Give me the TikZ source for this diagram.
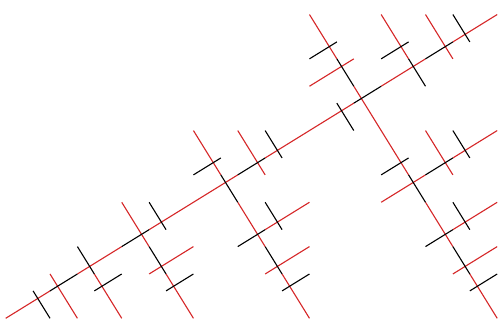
\documentclass[tikz,border=0pt]{standalone}
\definecolor{tred}{RGB}{214,39,40}
\tikzset{
  rl/.style={draw=tred, line width=1.1pt},
  bl/.style={draw=black, line width=1.1pt}
}
\newcommand\drawU[4]{\draw[#1] (#2,#4) -- (#3,#4);}
\newcommand\drawV[4]{\draw[#1] (#4,#2) -- (#4,#3);}
\begin{document}
\begin{tikzpicture}[x=1pt,y=-1pt]
\fill[white] (0,0) rectangle (501,326);
\useasboundingbox (0,0) rectangle (501,326);
\begin{scope}[shift={(5.7,318.3)}, x={(0.85065pt,0.52573pt)}, y={(0.52573pt,-0.85065pt)}]
% ---------- red ----------
% trunk
\drawU{rl}{0}{52.1}{0}
\drawU{rl}{84.3}{136.4}{0}
\drawU{rl}{168.6}{272.8}{0}
\drawU{rl}{305.0}{409.2}{0}
\drawU{rl}{441.4}{493.5}{0}
\drawU{rl}{525.7}{577.8}{0}
% perpendiculars
\drawV{rl}{-14.4}{37.7}{61.0}
\drawV{rl}{8.9}{61.0}{98.7}
\drawV{rl}{-37.7}{14.4}{159.7}
\drawV{rl}{46.6}{98.7}{159.7}
\drawV{rl}{-61.0}{-8.9}{258.4}
\drawV{rl}{23.3}{75.4}{258.4}
\drawV{rl}{107.6}{159.7}{258.4}
\drawV{rl}{-37.7}{14.4}{296.1}
\drawV{rl}{-98.7}{-46.6}{418.1}
\drawV{rl}{-14.4}{89.8}{418.1}
\drawV{rl}{122.0}{174.1}{418.1}
\drawV{rl}{206.3}{258.4}{418.1}
\drawV{rl}{-61.0}{-8.9}{479.1}
\drawV{rl}{-37.7}{14.4}{516.8}
\drawV{rl}{61.0}{113.1}{455.8}
% parallels
\drawU{rl}{145.3}{197.4}{37.7}
\drawU{rl}{267.3}{319.4}{61.0}
\drawU{rl}{244.0}{296.1}{98.7}
\drawU{rl}{380.4}{432.5}{-37.7}
\drawU{rl}{380.4}{432.5}{98.7}
\drawU{rl}{464.7}{516.8}{98.7}
\drawU{rl}{427.0}{479.1}{159.7}
\drawU{rl}{403.7}{455.8}{197.4}
% ---------- black ----------
% trunk
\drawU{bl}{52.1}{84.3}{0}
\drawU{bl}{136.4}{168.6}{0}
\drawU{bl}{272.8}{305.0}{0}
\drawU{bl}{409.2}{441.4}{0}
\drawU{bl}{493.5}{525.7}{0}
% perpendiculars
\drawV{bl}{-8.9}{23.3}{37.7}
\drawV{bl}{-23.3}{8.9}{98.7}
\drawV{bl}{14.4}{46.6}{159.7}
\drawV{bl}{-23.3}{8.9}{183.0}
\drawV{bl}{-8.9}{23.3}{258.4}
\drawV{bl}{75.4}{107.6}{258.4}
\drawV{bl}{-23.3}{8.9}{319.4}
\drawV{bl}{-8.9}{23.3}{394.8}
\drawV{bl}{-46.6}{-14.4}{418.1}
\drawV{bl}{89.8}{122.0}{418.1}
\drawV{bl}{174.1}{206.3}{418.1}
\drawV{bl}{-8.9}{23.3}{479.1}
\drawV{bl}{-23.3}{8.9}{540.1}
\drawV{bl}{37.7}{69.9}{281.7}
\drawV{bl}{75.4}{107.6}{479.1}
\drawV{bl}{136.4}{168.6}{441.4}
% parallels
\drawU{bl}{89.8}{122.0}{23.3}
\drawU{bl}{150.8}{183.0}{61.0}
\drawU{bl}{235.1}{267.3}{-23.3}
\drawU{bl}{235.1}{267.3}{61.0}
\drawU{bl}{249.5}{281.7}{122.0}
\drawU{bl}{394.8}{427.0}{-61.0}
\drawU{bl}{455.8}{488.0}{-23.3}
\drawU{bl}{394.8}{427.0}{75.4}
\drawU{bl}{432.5}{464.7}{98.7}
\drawU{bl}{394.8}{427.0}{159.7}
\drawU{bl}{409.2}{441.4}{220.7}
\end{scope}
\end{tikzpicture}
\end{document}
